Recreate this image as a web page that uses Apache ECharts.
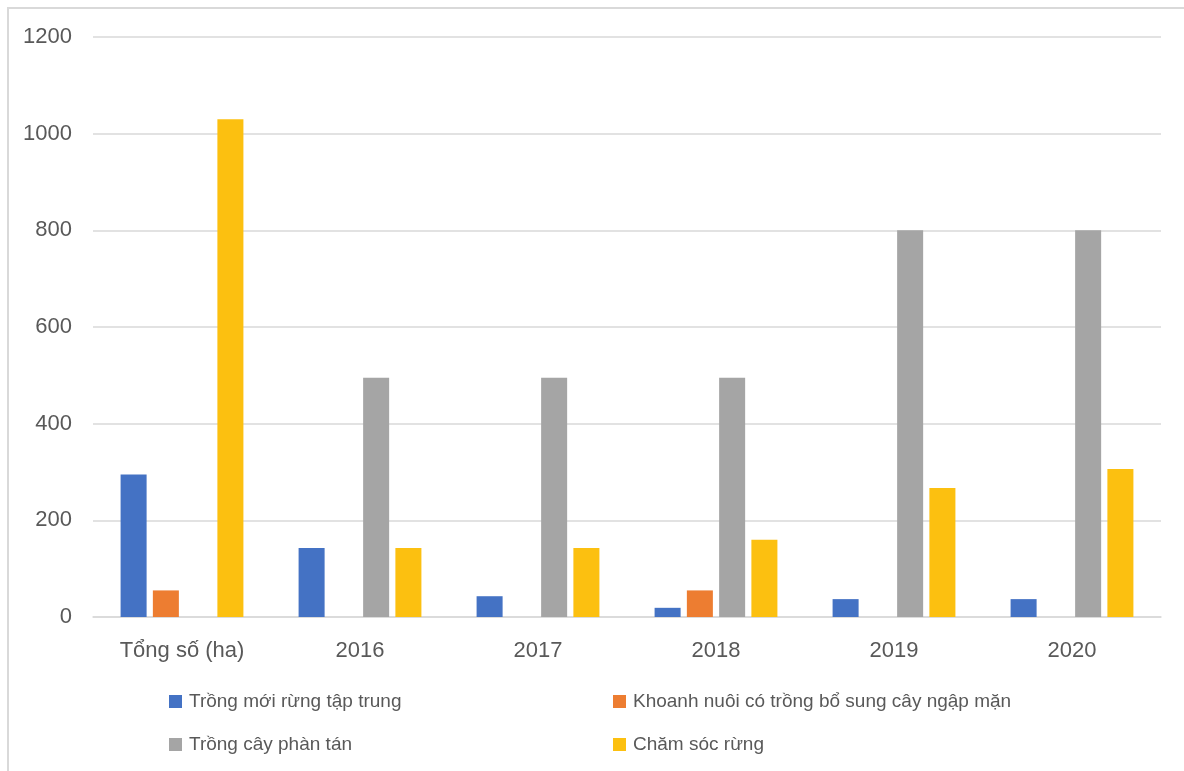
<!DOCTYPE html>
<html>
<head>
<meta charset="utf-8">
<script src="https://cdn.jsdelivr.net/npm/echarts@6/dist/echarts.min.js"></script>
<style>
html,body{margin:0;padding:0;background:#fff;overflow:hidden;}
#frame{position:absolute;left:7px;top:7px;width:1200px;height:800px;border:2px solid #d9d9d9;box-sizing:border-box;}
#chart{position:absolute;left:0;top:0;width:1184px;height:771px;}
</style>
</head>
<body>
<div id="frame"></div>
<div id="chart"></div>
<script>
const categories = ['Tổng số (ha)', '2016', '2017', '2018', '2019', '2020'];
const seriesNames = ['Trồng mới rừng tập trung', 'Khoanh nuôi có trồng bổ sung cây ngập mặn', 'Trồng cây phàn tán', 'Chăm sóc rừng'];
const tapTrung = [295, 143, 43, 19, 37, 37];
const khoanhNuoi = [55, null, null, 55, null, null];
const phanTan = [null, 495, 495, 495, 800, 800];
const chamSoc = [1030, 143, 143, 160, 267, 306];
const yTicks = [0, 200, 400, 600, 800, 1000, 1200];
const colors = ['#4472C4', '#ED7D31', '#A5A5A5', '#FCC010'];

const chart = echarts.init(document.getElementById('chart'));
const font = 'Arial, "Liberation Sans", sans-serif';
const values = [tapTrung, khoanhNuoi, phanTan, chamSoc];
const legendCommon = {
  orient: 'vertical',
  itemWidth: 13,
  itemHeight: 13,
  itemGap: 24,
  icon: 'rect',
  textStyle: { color: '#595959', fontSize: 19, fontFamily: font, padding: [0, 0, 0, 2] }
};
chart.setOption({
  animation: false,
  color: colors,
  grid: { left: 93, right: 23, top: 37, bottom: 154, containLabel: false },
  legend: [
    Object.assign({ left: 164, top: 687, data: [seriesNames[0], seriesNames[2]] }, legendCommon),
    Object.assign({ left: 608, top: 687, data: [seriesNames[1], seriesNames[3]] }, legendCommon)
  ],
  xAxis: {
    type: 'category',
    data: categories,
    axisLine: { lineStyle: { color: '#d9d9d9', width: 1.5 } },
    axisTick: { show: false },
    axisLabel: { color: '#595959', fontSize: 22, fontFamily: font, margin: 23 }
  },
  yAxis: {
    type: 'value',
    min: yTicks[0],
    max: yTicks[yTicks.length - 1],
    interval: yTicks[1] - yTicks[0],
    axisLine: { show: false },
    axisTick: { show: false },
    splitLine: { lineStyle: { color: '#d9d9d9', width: 1.5 } },
    axisLabel: { color: '#595959', fontSize: 22, fontFamily: font, margin: 21, formatter: v => String(v) }
  },
  series: seriesNames.map((name, i) => ({
    name: name,
    type: 'bar',
    data: values[i],
    barGap: '24%',
    barCategoryGap: '31%',
    itemStyle: { color: colors[i] }
  }))
});
</script>
</body>
</html>
